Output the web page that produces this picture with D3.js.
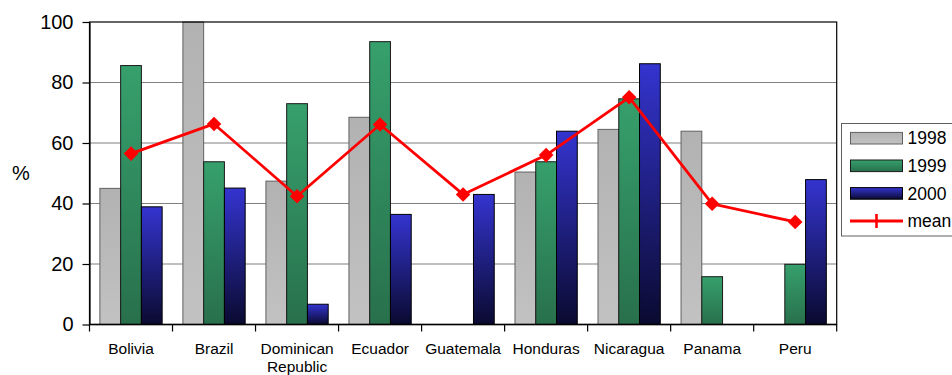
<!DOCTYPE html>
<html>
<head>
<meta charset="utf-8">
<script src="https://cdn.jsdelivr.net/npm/d3@7/dist/d3.min.js"></script>
<style>
  html, body { margin: 0; padding: 0; background: #fff; }
  svg { display: block; font-family: "Liberation Sans", Arial, sans-serif; }
</style>
</head>
<body>
<svg id="chart" width="952" height="375"></svg>
<script>
// Survey share (%) by country and year; null = no survey that year
const countries = ["Bolivia", "Brazil", "Dominican\nRepublic", "Ecuador", "Guatemala",
                   "Honduras", "Nicaragua", "Panama", "Peru"];
const years = ["1998", "1999", "2000"];
const values1998 = [45, 100, 47.4, 68.5, null, 50.4, 64.5, 63.9, null];
const values1999 = [85.6, 53.8, 73.0, 93.5, null, 53.8, 74.6, 15.8, 19.9];
const values2000 = [38.9, 45.1, 6.7, 36.4, 43.0, 63.9, 86.2, null, 47.9];
const meanValues = [56.5, 66.3, 42.4, 66.1, 43.0, 56.0, 75.1, 39.9, 33.9];
const yTicks = [0, 20, 40, 60, 80, 100];

const seriesValues = [values1998, values1999, values2000];

const svg = d3.select("#chart");
const defs = svg.append("defs");

const plot = { left: 89.5, right: 836.7, top: 22, bottom: 324.5 };

const x = d3.scaleBand().domain(countries).range([plot.left, plot.right]).padding(0);
const xInner = d3.scaleBand().domain(years).range([0, x.bandwidth()])
  .paddingInner(0).paddingOuter(0.5);
const y = d3.scaleLinear().domain([0, 100]).range([plot.bottom, plot.top]);

// vertical fills, one stop pair per series
const fills = {
  "1998": { top: "#b2b2b2", bottom: "#c2c2c2", stroke: "#606060" },
  "1999": { top: "#36a06c", bottom: "#28704c", stroke: "#1a1a1a" },
  "2000": { top: "#3434d0", bottom: "#0a0a30", stroke: "#000000" }
};
years.forEach(yr => {
  const g = defs.append("linearGradient")
    .attr("id", "grad" + yr).attr("x1", 0).attr("y1", 0).attr("x2", 0).attr("y2", 1);
  g.append("stop").attr("offset", "0%").attr("stop-color", fills[yr].top);
  g.append("stop").attr("offset", "100%").attr("stop-color", fills[yr].bottom);
});

// plot background and horizontal gridlines
svg.append("rect")
  .attr("x", plot.left).attr("y", plot.top)
  .attr("width", plot.right - plot.left).attr("height", plot.bottom - plot.top)
  .attr("fill", "#fff");

svg.append("g").selectAll("line")
  .data(yTicks.filter(t => t > 0 && t < 100))
  .join("line")
  .attr("x1", plot.left).attr("x2", plot.right)
  .attr("y1", d => y(d)).attr("y2", d => y(d))
  .attr("stroke", "#808080").attr("stroke-width", 1.2);

// bars
const barGroups = svg.append("g").selectAll("g")
  .data(countries)
  .join("g")
  .attr("transform", d => `translate(${x(d)},0)`);

barGroups.selectAll("rect")
  .data((c, i) => years.map((yr, k) => ({ yr, v: seriesValues[k][i] })).filter(d => d.v != null))
  .join("rect")
  .attr("x", d => xInner(d.yr))
  .attr("width", xInner.bandwidth())
  .attr("y", d => y(d.v))
  .attr("height", d => y(0) - y(d.v))
  .attr("fill", d => `url(#grad${d.yr})`)
  .attr("stroke", d => fills[d.yr].stroke)
  .attr("stroke-width", 1);

// frame
svg.append("rect")
  .attr("x", plot.left).attr("y", plot.top)
  .attr("width", plot.right - plot.left).attr("height", plot.bottom - plot.top)
  .attr("fill", "none").attr("stroke", "#000").attr("stroke-width", 1.2);

// y axis
const yAxis = svg.append("g")
  .attr("transform", `translate(${plot.left},0)`)
  .call(d3.axisLeft(y).tickValues(yTicks).tickSize(7).tickPadding(9).tickSizeOuter(0));
yAxis.select(".domain").attr("stroke", "#000").attr("stroke-width", 1.2);
yAxis.selectAll(".tick line").attr("stroke", "#000").attr("stroke-width", 1.2);
yAxis.selectAll(".tick text")
  .attr("font-size", 20).attr("fill", "#000")
  .attr("font-family", "Liberation Sans, Arial, sans-serif");

svg.append("text")
  .attr("x", 21).attr("y", 179.5)
  .attr("text-anchor", "middle")
  .attr("font-size", 20)
  .text("%");

// x axis: ticks at category boundaries, labels centred in each band
const xAxis = svg.append("g");
xAxis.append("line")
  .attr("x1", plot.left).attr("x2", plot.right)
  .attr("y1", plot.bottom).attr("y2", plot.bottom)
  .attr("stroke", "#000").attr("stroke-width", 1.4);
const boundaries = countries.map(c => x(c)).concat([x(countries[countries.length - 1]) + x.bandwidth()]);
xAxis.selectAll("line.tick")
  .data(boundaries)
  .join("line")
  .attr("class", "tick")
  .attr("x1", d => d).attr("x2", d => d)
  .attr("y1", plot.bottom).attr("y2", plot.bottom + 7)
  .attr("stroke", "#000").attr("stroke-width", 1.2);

const xLabels = xAxis.selectAll("text")
  .data(countries)
  .join("text")
  .attr("x", d => x(d) + x.bandwidth() / 2)
  .attr("y", 354)
  .attr("text-anchor", "middle")
  .attr("font-size", 15.5)
  .attr("fill", "#000");
xLabels.each(function(d) {
  const t = d3.select(this);
  d.split("\n").forEach((part, i) => {
    t.append("tspan")
      .attr("x", x(d) + x.bandwidth() / 2)
      .attr("dy", i === 0 ? 0 : 18.3)
      .text(part);
  });
});

// mean line with diamond markers
const cx = c => x(c) + x.bandwidth() / 2;
const line = d3.line().x(d => cx(d.c)).y(d => y(d.v));
const meanData = countries.map((c, i) => ({ c, v: meanValues[i] }));
svg.append("path")
  .datum(meanData)
  .attr("d", line)
  .attr("fill", "none")
  .attr("stroke", "#ff0000")
  .attr("stroke-width", 2.8)
  .attr("stroke-linejoin", "round");

// square diamond marker: size is the half-diagonal squared * 2
const squareDiamond = {
  draw(ctx, size) {
    const r = Math.sqrt(size / 2);
    ctx.moveTo(0, -r); ctx.lineTo(r, 0); ctx.lineTo(0, r); ctx.lineTo(-r, 0); ctx.closePath();
  }
};
const diamond = d3.symbol().type(squareDiamond).size(2 * 7.3 * 7.3);
svg.append("g").selectAll("path")
  .data(meanData)
  .join("path")
  .attr("transform", d => `translate(${cx(d.c)},${y(d.v)})`)
  .attr("d", diamond)
  .attr("fill", "#ff0000");

// legend
const legend = svg.append("g");
legend.append("rect")
  .attr("x", 841.5).attr("y", 123.5)
  .attr("width", 130).attr("height", 112.5)
  .attr("fill", "#fff").attr("stroke", "#606060").attr("stroke-width", 1);

const legendRows = years.concat(["mean"]);
legendRows.forEach((name, i) => {
  const cyRow = 138.2 + i * 27.6;
  if (name === "mean") {
    legend.append("line")
      .attr("x1", 850).attr("x2", 903).attr("y1", cyRow).attr("y2", cyRow)
      .attr("stroke", "#ff0000").attr("stroke-width", 2.8);
    legend.append("line")
      .attr("x1", 876.5).attr("x2", 876.5).attr("y1", cyRow - 7).attr("y2", cyRow + 7)
      .attr("stroke", "#ff0000").attr("stroke-width", 2.6);
  } else {
    legend.append("rect")
      .attr("x", 850.5).attr("y", cyRow - 5.8)
      .attr("width", 52).attr("height", 11.6)
      .attr("fill", `url(#grad${name})`)
      .attr("stroke", fills[name].stroke).attr("stroke-width", 1);
  }
  legend.append("text")
    .attr("x", 907.5).attr("y", cyRow + 6.2)
    .attr("font-size", 17.5)
    .attr("fill", "#000")
    .text(name);
});
</script>
</body>
</html>
